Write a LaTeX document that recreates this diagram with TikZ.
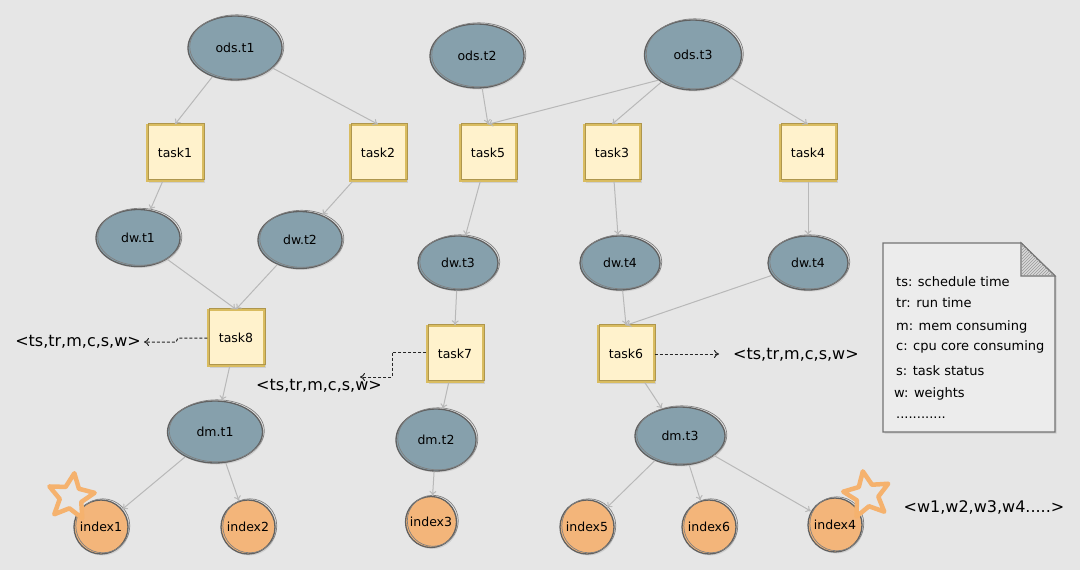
\documentclass[tikz,border=0pt]{standalone}
\usepackage{fontspec}
\setmainfont{DejaVu Sans}
\usetikzlibrary{shapes.geometric,arrows.meta,shadows,patterns}
\definecolor{bg}{HTML}{E6E6E6}
\definecolor{ellfill}{HTML}{86A0AC}
\definecolor{taskfill}{HTML}{FFF2CC}
\definecolor{taskdraw}{HTML}{D9BC60}
\definecolor{idxfill}{HTML}{F3B57A}
\definecolor{edgec}{HTML}{B8B8B8}
\definecolor{staro}{HTML}{F5B26E}
\definecolor{notefill}{HTML}{ECECEC}
\begin{document}
\begin{tikzpicture}[x=1pt,y=-1pt,
  shd/.style={drop shadow={opacity=0.22,shadow xshift=1.5pt,shadow yshift=-1.5pt}},
  sketch/.style={postaction={draw=#1, line width=0.7pt, fill=none,
    transform canvas={shift={(1.8pt,1.2pt)}}}},
  tbl/.style={ellipse, fill=ellfill, draw=black!62, line width=1.3pt, inner sep=0pt,
    font=\fontsize{12.5}{14}\selectfont, shd, sketch=black!50},
  taskbox/.style={rectangle, fill=taskfill, draw=taskdraw, line width=1.4pt,
    minimum size=56pt, inner sep=0pt, font=\fontsize{12.5}{14}\selectfont, shd, sketch=taskdraw!80!black},
  idx/.style={circle, fill=idxfill, draw=black!62, line width=1.3pt, minimum size=54pt,
    inner sep=0pt, font=\fontsize{12.5}{14}\selectfont, shd, sketch=black!50},
  edgearrow/.style={draw=edgec, line width=1pt, -{To[length=5pt,width=7pt]}},
  dasharrow/.style={draw=black!85, dash pattern=on 3pt off 2pt, line width=1pt, -{To[length=5pt,width=8pt]}},
  lbl/.style={font=\fontsize{16}{18}\selectfont, inner sep=0pt},
  notetxt/.style={font=\fontsize{13}{15}\selectfont, anchor=west, inner sep=0pt},
  starshape/.style={star, star points=5, star point ratio=2.1, minimum size=48pt,
    inner sep=0pt, draw=staro, line width=4.5pt, fill=bg, line join=round}
]
\useasboundingbox (0,0) rectangle (1080,570);
\fill[bg] (0,0) rectangle (1080,570);

% tables
\node[tbl, minimum width=94pt, minimum height=64pt] (ods1) at (235,48) {ods.t1};
\node[tbl, minimum width=94pt, minimum height=64pt] (ods2) at (477,56) {ods.t2};
\node[tbl, minimum width=97pt, minimum height=70pt] (ods3) at (693,55) {ods.t3};
\node[tbl, minimum width=84pt, minimum height=57pt] (dw1) at (138,238) {dw.t1};
\node[tbl, minimum width=84pt, minimum height=57pt] (dw2) at (300,240) {dw.t2};
\node[tbl, minimum width=80pt, minimum height=54pt] (dw3) at (458,263) {dw.t3};
\node[tbl, minimum width=80pt, minimum height=54pt] (dw4a) at (620,263) {dw.t4};
\node[tbl, minimum width=80pt, minimum height=54pt] (dw4b) at (808,263) {dw.t4};
\node[tbl, minimum width=95pt, minimum height=62pt] (dm1) at (215,432) {dm.t1};
\node[tbl, minimum width=80pt, minimum height=62pt] (dm2) at (436,440) {dm.t2};
\node[tbl, minimum width=90pt, minimum height=58pt] (dm3) at (680,436) {dm.t3};

% tasks
\node[taskbox] (task1) at (175,153) {task1};
\node[taskbox] (task2) at (378,153) {task2};
\node[taskbox] (task5) at (488,153) {task5};
\node[taskbox] (task3) at (612,153) {task3};
\node[taskbox] (task4) at (808,153) {task4};
\node[taskbox] (task8) at (236,338) {task8};
\node[taskbox] (task7) at (455,354) {task7};
\node[taskbox] (task6) at (626,354) {task6};

% indexes
\node[idx] (index1) at (101,527) {index1};
\node[idx] (index2) at (248,527) {index2};
\node[idx, minimum size=51pt] (index3) at (431,522) {index3};
\node[idx] (index5) at (587,527) {index5};
\node[idx] (index6) at (709,527) {index6};
\node[idx] (index4) at (835,525) {index4};

% stars
\node[starshape, rotate=-8] (star1) at (71,497) {};
\node[starshape, rotate=10] (star2) at (867,495) {};

% edges
\draw[edgearrow] (ods1) -- (task1.north);
\draw[edgearrow] (ods1) -- (task2.north);
\draw[edgearrow] (ods2) -- (task5.north);
\draw[edgearrow] (ods3.south west) -- (task5.north);
\draw[edgearrow] (ods3) -- (task3.north);
\draw[edgearrow] (ods3) -- (task4.north);
\draw[edgearrow] (task1) -- (dw1);
\draw[edgearrow] (task2) -- (dw2);
\draw[edgearrow] (task5) -- (dw3);
\draw[edgearrow] (task3) -- (dw4a);
\draw[edgearrow] (task4) -- (dw4b);
\draw[edgearrow] (dw1) -- (task8.north);
\draw[edgearrow] (dw2) -- (task8.north);
\draw[edgearrow] (dw3) -- (task7.north);
\draw[edgearrow] (dw4a) -- (task6.north);
\draw[edgearrow] (dw4b) -- (task6.north);
\draw[edgearrow] (task8) -- (dm1);
\draw[edgearrow] (task7) -- (dm2);
\draw[edgearrow] (task6) -- (dm3);
\draw[edgearrow] (dm1) -- (index1);
\draw[edgearrow] (dm1) -- (index2);
\draw[edgearrow] (dm2) -- (index3);
\draw[edgearrow] (dm3) -- (index5);
\draw[edgearrow] (dm3) -- (index6);
\draw[edgearrow] (dm3) -- (index4);

% labels
\node[lbl, anchor=east] (lblA) at (141,342) {<ts,tr,m,c,s,w>};
\node[lbl] (lblB) at (319,386) {<ts,tr,m,c,s,w>};
\node[lbl, anchor=west] (lblC) at (733,355) {<ts,tr,m,c,s,w>};
\node[lbl] (lblW) at (984,507) {<w1,w2,w3,w4.....>};

% dashed connectors
\coordinate (a1) at (178,338);
\coordinate (a2) at (176,342);
\draw[dasharrow] (task8.west) -- (a1) -- (a2) -- ([xshift=3pt]lblA.east);
\coordinate (b1) at (392,352);
\coordinate (b2) at (392,377);
\coordinate (b3) at (360,377);
\draw[dasharrow] (task7.west |- b1) -- (b1) -- (b2) -- (b3);
\coordinate (c1) at (719,354);
\draw[dasharrow] (task6.east) -- (c1);

% note
\path[fill=notefill, draw=black!55, line width=1.4pt, drop shadow={opacity=0.25,shadow xshift=1.5pt,shadow yshift=-1.5pt}]
  (883,243) -- (1021,243) -- (1055,276) -- (1055,432) -- (883,432) -- cycle;
\path[fill=black!15, draw=black!55, line width=1.2pt] (1021,243) -- (1021,276) -- (1055,276) -- cycle;
\path[pattern=north east lines, pattern color=black!40] (1021,243) -- (1021,276) -- (1055,276) -- cycle;
\node[notetxt] (n1) at (896,282) {ts: schedule time};
\node[notetxt] (n2) at (896,303) {tr: run time};
\node[notetxt] (n3) at (896,327) {m: mem consuming};
\node[notetxt] (n4) at (896,347) {c: cpu core consuming};
\node[notetxt] (n5) at (896,371) {s: task status};
\node[notetxt] (n6) at (894,394) {w: weights};
\node[notetxt] (n7) at (896,418) {............};
\end{tikzpicture}
\end{document}
